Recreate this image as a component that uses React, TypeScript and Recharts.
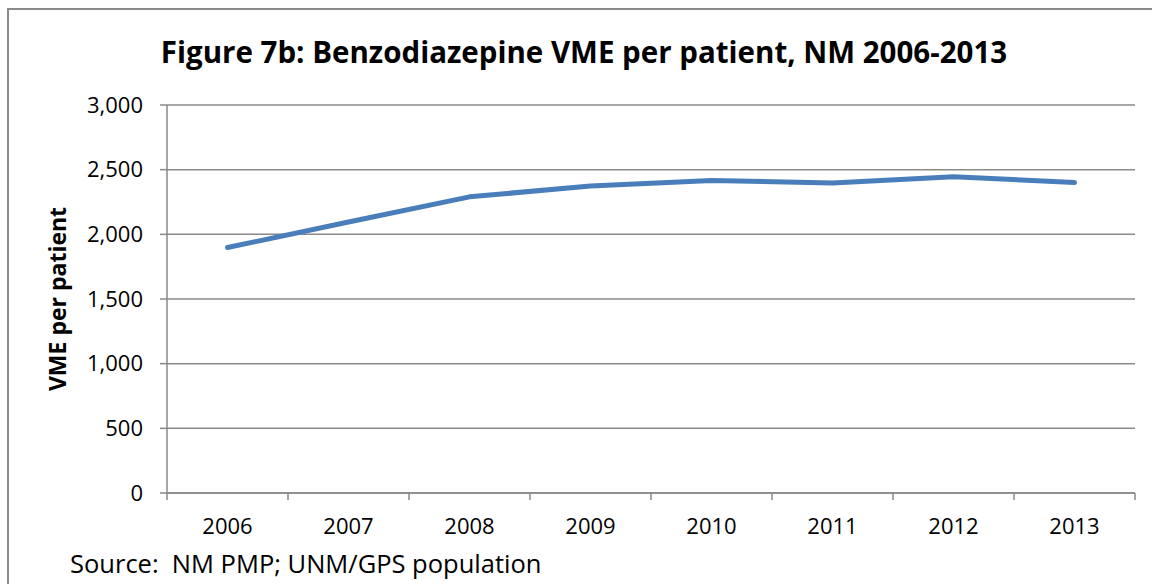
import { LineChart, Line, XAxis, YAxis, CartesianGrid } from 'recharts';

const years = ['2006', '2007', '2008', '2009', '2010', '2011', '2012', '2013'];
const vmePerPatient = [1898, 2095, 2290, 2374, 2417, 2397, 2446, 2400];
const yTicks = [0, 500, 1000, 1500, 2000, 2500, 3000];

// slot: centre of each year's band on a 0..8 axis
const data = years.map((year, i) => ({ year, slot: i + 0.5, vme: vmePerPatient[i] }));

const FONT = '"Open Sans", sans-serif';
const GRID = '#8a8a8a';

// year label plus Excel-style tick marks on the band edges
function YearTick(props: any) {
  const { x, y, payload, index, visibleTicksCount } = props;
  const half = payload?.offset ?? 0;
  const last = index === visibleTicksCount - 1;
  return (
    <g>
      <line x1={x - half} x2={x - half} y1={y} y2={y + 7} stroke={GRID} strokeWidth={1.5} />
      {last && <line x1={x + half} x2={x + half} y1={y} y2={y + 7} stroke={GRID} strokeWidth={1.5} />}
      <text x={x} y={y + 25} dy="0.71em" textAnchor="middle" fill="#000" fontSize={22} fontFamily={FONT}>
        {payload.value}
      </text>
    </g>
  );
}

export default function App() {
  return (
    <div
      style={{
        position: 'absolute',
        left: 0,
        top: 0,
        width: 1152,
        height: 584,
        overflow: 'hidden',
        background: '#fff',
        fontFamily: FONT,
      }}
    >
      <div
        style={{
          position: 'absolute',
          left: 7,
          top: 8,
          width: 1200,
          height: 650,
          border: '2px solid #8a8a8a',
          boxSizing: 'border-box',
        }}
      />
      <div
        style={{
          position: 'absolute',
          left: 0,
          width: 1168,
          top: 32,
          textAlign: 'center',
          fontWeight: 700,
          fontSize: 29.5,
          lineHeight: '40px',
          color: '#000',
        }}
      >
        Figure 7b: Benzodiazepine VME per patient, NM 2006-2013
      </div>
      <div
        style={{
          position: 'absolute',
          left: 57,
          top: 299,
          transform: 'translate(-50%, -50%) rotate(-90deg)',
          whiteSpace: 'nowrap',
          fontWeight: 700,
          fontSize: 23,
          color: '#000',
        }}
      >
        VME per patient
      </div>
      <div
        style={{
          position: 'absolute',
          left: 70,
          top: 545,
          fontSize: 25.5,
          lineHeight: '36px',
          color: '#000',
          whiteSpace: 'pre',
        }}
      >
        {'Source:  NM PMP; UNM/GPS population'}
      </div>
      <LineChart
        width={1152}
        height={584}
        data={data}
        margin={{ top: 105, right: 17, bottom: 51, left: 87 }}
        style={{ position: 'absolute', left: 0, top: 0 }}
      >
        <CartesianGrid horizontal vertical={false} stroke={GRID} strokeWidth={1.5} />
        <XAxis xAxisId="slots" dataKey="slot" type="number" domain={[0, 8]} height={0} hide />
        <XAxis
          xAxisId="years"
          dataKey="year"
          type="category"
          scale="band"
          stroke={GRID}
          strokeWidth={1.5}
          tickLine={false}
          tickSize={0}
          tickMargin={0}
          height={40}
          interval={0}
          tick={<YearTick />}
        />
        <YAxis
          domain={[0, 3000]}
          ticks={yTicks}
          width={80}
          tickSize={7}
          tickMargin={17}
          stroke={GRID}
          strokeWidth={1.5}
          tickLine={{ stroke: GRID, strokeWidth: 1.5 }}
          tickFormatter={(v: number) => v.toLocaleString('en-US')}
          tick={{ fill: '#000', fontSize: 22, fontFamily: FONT }}
        />
        <Line
          xAxisId="slots"
          type="linear"
          dataKey="vme"
          stroke="#4a7ebb"
          strokeWidth={5}
          strokeLinecap="round"
          strokeLinejoin="round"
          dot={false}
          activeDot={false}
          isAnimationActive={false}
        />
      </LineChart>
    </div>
  );
}
